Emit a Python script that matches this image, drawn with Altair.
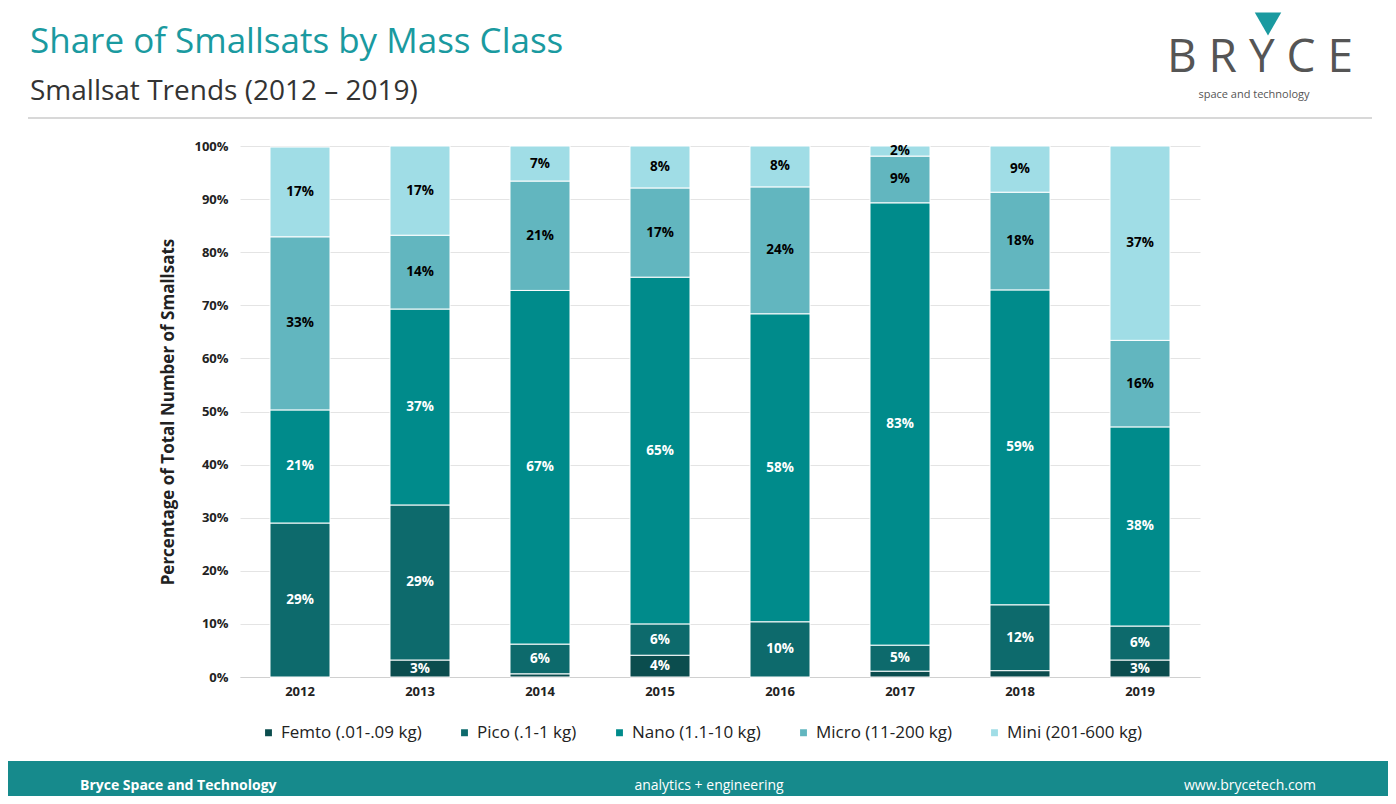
import altair as alt
import pandas as pd

years = ["2012", "2013", "2014", "2015", "2016", "2017", "2018", "2019"]
classes = ["Femto (.01-.09 kg)", "Pico (.1-1 kg)", "Nano (1.1-10 kg)",
           "Micro (11-200 kg)", "Mini (201-600 kg)"]
femto = [0.0, 3.2, 0.6, 4.1, 0.0, 1.1, 1.2, 3.2]
pico = [29.0, 29.2, 5.6, 5.9, 10.4, 4.9, 12.4, 6.4]
nano = [21.3, 36.9, 66.6, 65.3, 58.0, 83.3, 59.3, 37.5]
micro = [32.6, 13.9, 20.6, 16.8, 23.9, 8.8, 18.4, 16.3]
mini = [16.9, 16.8, 6.6, 7.9, 7.7, 1.9, 8.7, 36.6]

colors = ["#0b4d4e", "#0d6a6c", "#008b8b", "#62b6bf", "#a0dde6"]
label_colors = ["white", "white", "white", "black", "black"]

rows = []
for i, y in enumerate(years):
    base = 0.0
    for k, vals in enumerate([femto, pico, nano, micro, mini]):
        v = vals[i]
        rows.append({"year": y, "cls": classes[k], "order": k, "share": v,
                     "lo": base, "hi": base + v, "mid": base + v / 2,
                     "label": f"{round(v):.0f}%" if v >= 1.8 else "",
                     "lc": label_colors[k]})
        base += v
df = pd.DataFrame(rows)

FONT = "Open Sans"

x = alt.X("year:N", title=None, scale=alt.Scale(paddingInner=0.5, paddingOuter=0.25),
          axis=alt.Axis(labelAngle=0, labelFontWeight="bold", labelFontSize=13,
                        labelColor="#222", ticks=False, domainColor="#d0d0d0",
                        labelPadding=8))

bars = alt.Chart(df).mark_bar(stroke="white", strokeWidth=1).encode(
    x=x,
    y=alt.Y("lo:Q", scale=alt.Scale(domain=[0, 100]),
            title="Percentage of Total Number of Smallsats",
            axis=alt.Axis(values=list(range(0, 101, 10)),
                          labelExpr="datum.value + '%'", labelFontWeight="bold",
                          labelFontSize=13, labelColor="#222", ticks=False,
                          domain=False, gridColor="#e4e4e4", titleFontSize=17,
                          titleFontWeight="bold", titleColor="#222",
                          titlePadding=16, labelPadding=12)),
    y2="hi:Q",
    color=alt.Color("cls:N", sort=classes,
                    scale=alt.Scale(domain=classes, range=colors),
                    legend=alt.Legend(title=None, orient="none", direction="horizontal",
                                      legendX=20, legendY=578, labelFontSize=17,
                                      labelColor="#222", symbolType="square",
                                      symbolSize=70, columnPadding=34,
                                      labelFont=FONT)),
)

labels = alt.Chart(df).mark_text(fontWeight="bold", fontSize=13.5, font=FONT).encode(
    x=x, y=alt.Y("mid:Q"), text="label:N",
    color=alt.Color("lc:N", scale=None),
)

one = pd.DataFrame({"a": [1]})

footer = alt.Chart(one).mark_rect(color="#168a8c").encode(
    x=alt.value(-240), x2=alt.value(1156), y=alt.value(615), y2=alt.value(666))

def txt(s, xv, yv, size, color, weight="normal", align="left"):
    return alt.Chart(one).mark_text(text=s, fontSize=size, color=color, fontWeight=weight,
                                    align=align, font=FONT, baseline="alphabetic"
                                    ).encode(x=alt.value(xv), y=alt.value(yv))

sep = alt.Chart(one).mark_rule(color="#d8d8d8", strokeWidth=2).encode(
    x=alt.value(-212), x2=alt.value(1132), y=alt.value(-28))
logo_tri = alt.Chart(one).mark_point(shape="triangle-down", filled=True, color="#1a9aa0",
                                     size=700, opacity=1).encode(
    x=alt.value(1028), y=alt.value(-122))

chart = alt.layer(
    bars, labels, footer, sep, logo_tri,
    txt("Share of Smallsats by Mass Class", -210, -93, 35, "#1a9aa0"),
    txt("Smallsat Trends (2012 \u2013 2019)", -210, -46, 28, "#333"),
    txt("B R Y C E", 1020, -74, 46, "#555", align="center"),
    txt("space and technology", 1014, -48, 11, "#555", align="center"),
    txt("Bryce Space and Technology", -160, 644, 14, "white", weight="bold"),
    txt("analytics  +  engineering", 469, 644, 14, "white", align="center"),
    txt("www.brycetech.com", 1076, 644, 14, "white", align="right"),
).properties(
    width=960, height=531,
    autosize=alt.AutoSizeParams(type="none"),
    padding={"left": 232, "top": 138, "right": 188, "bottom": 119},
).configure_view(strokeWidth=0).configure_axis(labelFont=FONT, titleFont=FONT)

chart.save("out.html", embed_options={"renderer": "svg", "actions": False})
